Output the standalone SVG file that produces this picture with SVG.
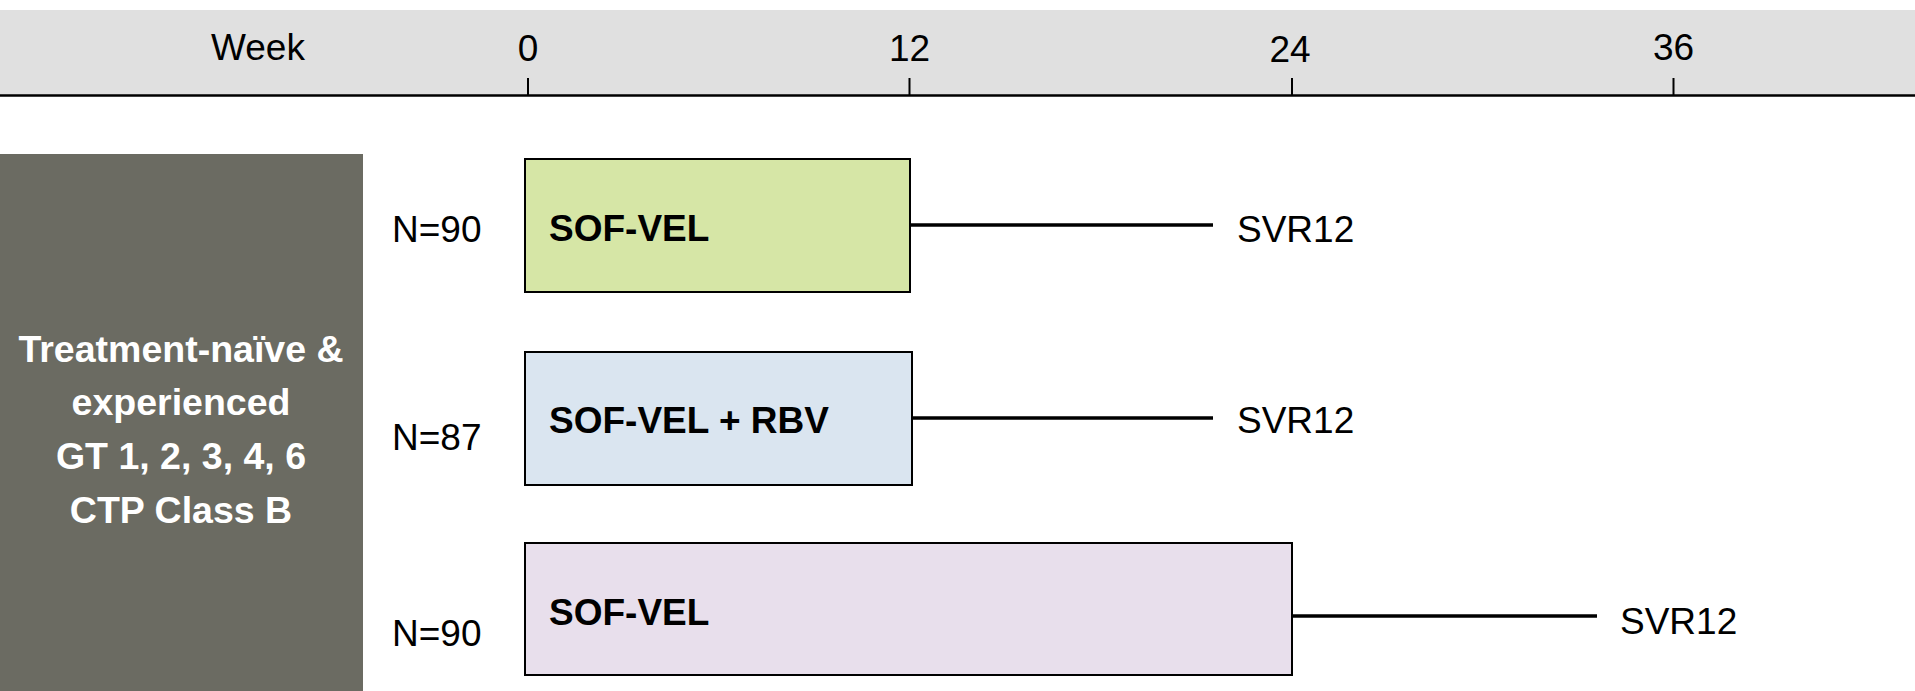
<svg xmlns="http://www.w3.org/2000/svg" width="1915" height="691" viewBox="0 0 1915 691">
<style>
  text { font-family: "Liberation Sans", Arial, sans-serif; font-size: 37px; fill: #000; }
  .c { text-anchor: middle; }
  .b { font-weight: bold; }
  .w { fill: #fff; font-weight: bold; text-anchor: middle; font-size: 37.5px; }
  .arm { stroke: #000; stroke-width: 2; }
  .tick { stroke: #000; stroke-width: 2; }
  .conn { stroke: #000; stroke-width: 3.5; fill: none; }
</style>
<rect x="0" y="0" width="1915" height="691" fill="#fff"/>
<g id="timeline">
  <rect x="0" y="10" width="1915" height="85" fill="#e0e0e0"/>
  <line x1="0" y1="95.5" x2="1915" y2="95.5" stroke="#000" stroke-width="2.5"/>
  <text x="258" y="60" class="c">Week</text>
  <line class="tick" x1="528" y1="78" x2="528" y2="95"/>
  <line class="tick" x1="909.5" y1="78" x2="909.5" y2="95"/>
  <line class="tick" x1="1292" y1="78" x2="1292" y2="95"/>
  <line class="tick" x1="1673.5" y1="78" x2="1673.5" y2="95"/>
  <text x="528" y="61" class="c">0</text>
  <text x="909.5" y="61" class="c">12</text>
  <text x="1290" y="62" class="c">24</text>
  <text x="1673.5" y="60" class="c">36</text>
</g>
<g id="population">
  <rect x="0" y="154" width="363" height="537" fill="#6b6b62"/>
  <text x="181" y="362" class="w">Treatment-naïve &amp;</text>
  <text x="181" y="415" class="w">experienced</text>
  <text x="181" y="469" class="w">GT 1, 2, 3, 4, 6</text>
  <text x="181" y="523" class="w">CTP Class B</text>
</g>
<g id="arm1">
  <text x="392" y="242">N=90</text>
  <rect class="arm" x="525" y="159" width="385" height="133" fill="#d6e6a6"/>
  <text x="549" y="241" class="b">SOF-VEL</text>
  <text x="1237" y="242">SVR12</text>
</g>
<g id="arm2">
  <text x="392" y="450">N=87</text>
  <rect class="arm" x="525" y="352" width="387" height="133" fill="#dae5f0"/>
  <text x="549" y="433" class="b">SOF-VEL + RBV</text>
  <text x="1237" y="433">SVR12</text>
</g>
<g id="arm3">
  <text x="392" y="646">N=90</text>
  <rect class="arm" x="525" y="543" width="767" height="132" fill="#e8dfec"/>
  <text x="549" y="625" class="b">SOF-VEL</text>
  <text x="1620" y="634">SVR12</text>
</g>
<g id="connectors">
  <line class="conn" x1="910" y1="225" x2="1213" y2="225"/>
  <line class="conn" x1="912" y1="418" x2="1213" y2="418"/>
  <line class="conn" x1="1292" y1="616" x2="1597" y2="616"/>
</g>
</svg>
